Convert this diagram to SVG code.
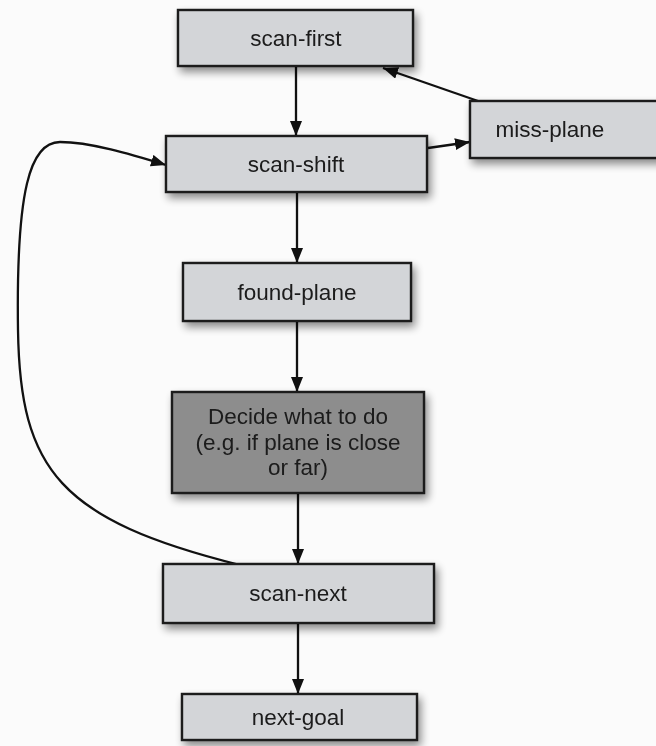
<svg xmlns="http://www.w3.org/2000/svg" width="656" height="746" viewBox="0 0 656 746">
<defs>
<style>
.box{fill:#d3d5d8;stroke:#1b1b1b;stroke-width:2.4}
.dark{fill:#8d8d8d;stroke:#1b1b1b;stroke-width:2.4}
.t{font-family:"Liberation Sans",Arial,sans-serif;font-size:22.5px;fill:#1a1a1a;text-anchor:middle}
.c{fill:none;stroke:#111;stroke-width:2.3}
</style>
<filter id="sh" x="-10%" y="-20%" width="130%" height="160%">
<feGaussianBlur in="SourceAlpha" stdDeviation="4"/>
<feOffset dx="3" dy="5" result="b"/>
<feComponentTransfer><feFuncA type="linear" slope="0.45"/></feComponentTransfer>
<feMerge><feMergeNode/><feMergeNode in="SourceGraphic"/></feMerge>
</filter>
<marker id="ah" viewBox="0 0 15 12" refX="15" refY="6" markerWidth="15" markerHeight="12" markerUnits="userSpaceOnUse" orient="auto">
<path d="M0,0 L15,6 L0,12 Z" fill="#111"/>
</marker>
</defs>
<rect width="656" height="746" fill="#fbfbfb"/>
<g id="connectors">
<line class="c" x1="296" y1="66" x2="296" y2="136" marker-end="url(#ah)"/>
<line class="c" x1="428" y1="148" x2="470" y2="142" marker-end="url(#ah)"/>
<line class="c" x1="478" y1="101" x2="383" y2="68" marker-end="url(#ah)"/>
<line class="c" x1="297" y1="192" x2="297" y2="263" marker-end="url(#ah)"/>
<line class="c" x1="297" y1="321" x2="297" y2="392" marker-end="url(#ah)"/>
<line class="c" x1="298" y1="493" x2="298" y2="564" marker-end="url(#ah)"/>
<line class="c" x1="298" y1="623" x2="298" y2="694" marker-end="url(#ah)"/>
<path class="c" d="M240,565 C60,520 20,470 18,330 C16,190 30,142 60,142 C90,142 130,154 166,165" marker-end="url(#ah)"/>
</g>
<g id="scan-first" filter="url(#sh)">
<rect class="box" x="178" y="10" width="235" height="56"/>
<text class="t" x="296" y="46">scan-first</text>
</g>
<g id="scan-shift" filter="url(#sh)">
<rect class="box" x="166" y="136" width="261" height="56"/>
<text class="t" x="296" y="172">scan-shift</text>
</g>
<g id="miss-plane" filter="url(#sh)">
<rect class="box" x="470" y="101" width="200" height="57"/>
<text class="t" x="550" y="137">miss-plane</text>
</g>
<g id="found-plane" filter="url(#sh)">
<rect class="box" x="183" y="263" width="228" height="58"/>
<text class="t" x="297" y="300">found-plane</text>
</g>
<g id="decide" filter="url(#sh)">
<rect class="dark" x="172" y="392" width="252" height="101"/>
<text class="t" x="298" y="424">Decide what to do</text>
<text class="t" x="298" y="450">(e.g. if plane is close</text>
<text class="t" x="298" y="475">or far)</text>
</g>
<g id="scan-next" filter="url(#sh)">
<rect class="box" x="163" y="564" width="271" height="59"/>
<text class="t" x="298" y="601">scan-next</text>
</g>
<g id="next-goal" filter="url(#sh)">
<rect class="box" x="182" y="694" width="235" height="46"/>
<text class="t" x="298" y="725">next-goal</text>
</g>
</svg>
